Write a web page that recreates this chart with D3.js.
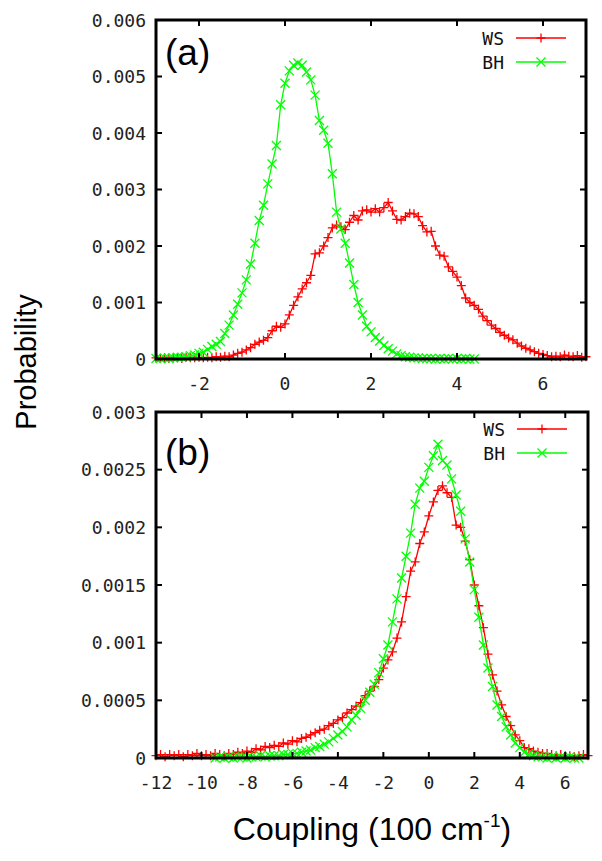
<!DOCTYPE html>
<html><head><meta charset="utf-8">
<script src="https://cdn.jsdelivr.net/npm/d3@7"></script>
<style>html,body{margin:0;padding:0;background:#fff;}svg{display:block;}</style>
</head><body>
<script>
// ---------- DATA ----------
// Panel (a)
const xA_ws = d3.range(-3, 7.001, 0.1).map(v => +v.toFixed(2));
const wsA = [0.00002,0.00001,0.00002,0.00001,0.00002,0.00002,0.00001,0.00003,0.00002,0.00002,
0.00003,0.00002,0.00003,0.00002,0.00004,0.00003,0.00005,0.00004,0.00007,0.00010,
0.00012,0.00016,0.00020,0.00026,0.00030,0.00033,0.00038,0.00050,0.00058,0.00056,
0.00062,0.00078,0.00095,0.00110,0.00124,0.00135,0.00148,0.00186,0.00188,0.00200,
0.00215,0.00232,0.00237,0.00234,0.00229,0.00242,0.00254,0.00246,0.00262,0.00264,
0.00260,0.00266,0.00260,0.00268,0.00277,0.00262,0.00247,0.00246,0.00252,0.00258,
0.00257,0.00252,0.00236,0.00225,0.00226,0.00200,0.00184,0.00182,0.00163,0.00155,
0.00145,0.00130,0.00108,0.00100,0.00095,0.00088,0.00076,0.00068,0.00060,0.00054,
0.00047,0.00042,0.00037,0.00034,0.00028,0.00023,0.00019,0.00016,0.00013,0.00010,
0.00008,0.00006,0.00004,0.00005,0.00004,0.00007,0.00005,0.00004,0.00006,0.00003,0.00004];
const xA_bh = d3.range(-3, 4.401, 0.1).map(v => +v.toFixed(2));
const bhA = [0.00001,0.00001,0.00002,0.00001,0.00002,0.00003,0.00003,0.00004,0.00006,0.00007,
0.00010,0.00012,0.00017,0.00022,0.00026,0.00031,0.00045,0.00060,0.00078,0.00097,
0.00117,0.00140,0.00168,0.00205,0.00245,0.00272,0.00310,0.00345,0.00378,0.00450,
0.00488,0.00510,0.00520,0.00524,0.00520,0.00508,0.00494,0.00467,0.00422,0.00405,
0.00382,0.00328,0.00260,0.00230,0.00205,0.00170,0.00132,0.00100,0.00078,0.00058,
0.00048,0.00038,0.00032,0.00024,0.00018,0.00014,0.00009,0.00006,0.00004,0.00003,
0.00002,0.00002,0.00001,0.00001,0.00001,0.00000,0.00001,0.00000,0.00001,0.00000,
0.00001,0.00000,0.00001,0.00000,0.00000];
// Panel (b)
const xB_ws = d3.range(-12, 7.001, 0.2).map(v => +v.toFixed(2));
const wsB = [0.00002,0.00003,0.00001,0.00003,0.00002,0.00003,0.00001,0.00003,0.00002,0.00004,
0.00002,0.00003,0.00002,0.00004,0.00003,0.00002,0.00004,0.00003,0.00005,0.00004,
0.00006,0.00005,0.00008,0.00007,0.00010,0.00009,0.00011,0.00010,0.00013,0.00012,
0.00015,0.00014,0.00017,0.00018,0.00020,0.00022,0.00024,0.00025,0.00028,0.00030,
0.00033,0.00035,0.00039,0.00042,0.00045,0.00048,0.00054,0.00058,0.00062,0.00068,
0.00078,0.00085,0.00092,0.00104,0.00118,0.00140,0.00162,0.00170,0.00186,0.00196,
0.00210,0.00222,0.00232,0.00236,0.00230,0.00226,0.00202,0.00200,0.00188,0.00172,
0.00150,0.00132,0.00113,0.00090,0.00072,0.00058,0.00046,0.00036,0.00028,0.00020,
0.00015,0.00009,0.00008,0.00006,0.00005,0.00004,0.00004,0.00003,0.00002,0.00003,
0.00002,0.00002,0.00001,0.00002,0.00003,0.00002];
const xB_bh = d3.range(-9.4, 6.601, 0.2).map(v => +v.toFixed(2));
const bhB = [0.00000,0.00001,0.00000,0.00001,0.00000,0.00001,0.00001,0.00000,0.00001,0.00001,
0.00002,0.00001,0.00002,0.00002,0.00002,0.00003,0.00003,0.00004,0.00004,0.00005,
0.00006,0.00007,0.00009,0.00010,0.00012,0.00014,0.00017,0.00020,0.00023,0.00027,
0.00033,0.00037,0.00043,0.00050,0.00057,0.00064,0.00074,0.00086,0.00098,0.00118,
0.00138,0.00156,0.00175,0.00195,0.00220,0.00234,0.00240,0.00252,0.00262,0.00272,
0.00258,0.00254,0.00242,0.00228,0.00214,0.00190,0.00170,0.00146,0.00122,0.00098,
0.00078,0.00062,0.00046,0.00036,0.00027,0.00020,0.00013,0.00009,0.00005,0.00003,
0.00002,0.00001,0.00001,0.00000,0.00001,0.00000,0.00001,0.00000,0.00001,0.00000,0.00000];

const xTicksA = [-2, 0, 2, 4, 6];
const xTickLabelsA = ["-2", "0", "2", "4", "6"];
const yTicksA = [0, 0.001, 0.002, 0.003, 0.004, 0.005, 0.006];
const yTickLabelsA = ["0", "0.001", "0.002", "0.003", "0.004", "0.005", "0.006"];
const xTicksB = [-12, -10, -8, -6, -4, -2, 0, 2, 4, 6];
const xTickLabelsB = ["-12", "-10", "-8", "-6", "-4", "-2", "0", "2", "4", "6"];
const yTicksB = [0, 0.0005, 0.001, 0.0015, 0.002, 0.0025, 0.003];
const yTickLabelsB = ["0", "0.0005", "0.001", "0.0015", "0.002", "0.0025", "0.003"];
const seriesNames = ["WS", "BH"];

// ---------- DRAW ----------
const W = 602, H = 861;
const svg = d3.select("body").append("svg").attr("width", W).attr("height", H);
const RED = "#ff0000", GREEN = "#00ff00";
const tickFont = "'DejaVu Sans Mono', 'Liberation Mono', monospace";

function marker(g, type, x, y, color) {
  const s = 4.5;
  if (type === "plus") {
    g.append("path").attr("d", `M${x - s},${y}H${x + s}M${x},${y - s}V${y + s}`)
      .attr("stroke", color).attr("stroke-width", 1.3).attr("fill", "none");
  } else {
    g.append("path").attr("d", `M${x - s},${y - s}L${x + s},${y + s}M${x - s},${y + s}L${x + s},${y - s}`)
      .attr("stroke", color).attr("stroke-width", 1.3).attr("fill", "none");
  }
}

function panel(cfg) {
  const x = d3.scaleLinear().domain(cfg.xDomain).range([cfg.left, cfg.right]);
  const y = d3.scaleLinear().domain(cfg.yDomain).range([cfg.bottom, cfg.top]);
  const g = svg.append("g");

  const clipId = "clip" + cfg.id;
  svg.append("clipPath").attr("id", clipId).append("rect")
    .attr("x", cfg.left - 6).attr("y", cfg.top).attr("width", cfg.right - cfg.left + 12).attr("height", cfg.bottom - cfg.top + 6);
  const data = g.append("g").attr("clip-path", `url(#${clipId})`);

  const line = d3.line().x(d => x(d[0])).y(d => y(d[1]));
  cfg.series.forEach(s => {
    const pts = s.xs.map((v, i) => [v, s.ys[i]]);
    data.append("path").datum(pts).attr("d", line)
      .attr("fill", "none").attr("stroke", s.color).attr("stroke-width", 1.3);
    const mg = data.append("g");
    pts.forEach(p => marker(mg, s.marker, x(p[0]), y(p[1]), s.color));
  });

  // frame
  g.append("rect").attr("x", cfg.left).attr("y", cfg.top)
    .attr("width", cfg.right - cfg.left).attr("height", cfg.bottom - cfg.top)
    .attr("fill", "none").attr("stroke", "#000").attr("stroke-width", 3);

  const tl = 6;
  cfg.xTicks.forEach((t, i) => {
    const px = x(t);
    g.append("line").attr("x1", px).attr("x2", px).attr("y1", cfg.bottom).attr("y2", cfg.bottom - tl)
      .attr("stroke", "#000").attr("stroke-width", 2);
    g.append("line").attr("x1", px).attr("x2", px).attr("y1", cfg.top).attr("y2", cfg.top + tl)
      .attr("stroke", "#000").attr("stroke-width", 2);
    g.append("text").attr("x", px).attr("y", cfg.bottom + 24).attr("text-anchor", "middle")
      .attr("dominant-baseline", "central").attr("font-family", tickFont).attr("font-size", 18)
      .attr("fill", "#222").text(cfg.xTickLabels[i]);
  });
  cfg.yTicks.forEach((t, i) => {
    const py = y(t);
    g.append("line").attr("x1", cfg.left).attr("x2", cfg.left + tl).attr("y1", py).attr("y2", py)
      .attr("stroke", "#000").attr("stroke-width", 2);
    g.append("line").attr("x1", cfg.right).attr("x2", cfg.right - tl).attr("y1", py).attr("y2", py)
      .attr("stroke", "#000").attr("stroke-width", 2);
    g.append("text").attr("x", cfg.left - 10).attr("y", py).attr("text-anchor", "end")
      .attr("dominant-baseline", "central").attr("font-family", tickFont).attr("font-size", 18)
      .attr("fill", "#222").text(cfg.yTickLabels[i]);
  });

  g.append("text").attr("x", cfg.left + 9).attr("y", cfg.labelY)
    .attr("font-family", "'Liberation Sans', Arial, sans-serif").attr("font-size", 37)
    .attr("fill", "#000").text(cfg.label);

  cfg.series.forEach((s, i) => {
    const ly = cfg.legendY + i * 24;
    g.append("text").attr("x", cfg.legendX).attr("y", ly).attr("text-anchor", "end")
      .attr("dominant-baseline", "central").attr("font-family", tickFont).attr("font-size", 18)
      .attr("fill", "#111").text(s.name);
    g.append("line").attr("x1", cfg.legendX + 12).attr("x2", cfg.legendX + 62).attr("y1", ly).attr("y2", ly)
      .attr("stroke", s.color).attr("stroke-width", 1.5);
    marker(g, s.marker, cfg.legendX + 37, ly, s.color);
  });
}

panel({
  id: "a", left: 156, right: 586, top: 20, bottom: 359,
  xDomain: [-3, 7], yDomain: [0, 0.006],
  xTicks: xTicksA, xTickLabels: xTickLabelsA, yTicks: yTicksA, yTickLabels: yTickLabelsA,
  label: "(a)", labelY: 65, legendX: 504, legendY: 38,
  series: [
    { name: seriesNames[0], xs: xA_ws, ys: wsA, color: RED, marker: "plus" },
    { name: seriesNames[1], xs: xA_bh, ys: bhA, color: GREEN, marker: "x" }
  ]
});

panel({
  id: "b", left: 156, right: 588, top: 412, bottom: 758,
  xDomain: [-12, 7], yDomain: [0, 0.003],
  xTicks: xTicksB, xTickLabels: xTickLabelsB, yTicks: yTicksB, yTickLabels: yTickLabelsB,
  label: "(b)", labelY: 465, legendX: 505, legendY: 429,
  series: [
    { name: seriesNames[0], xs: xB_ws, ys: wsB, color: RED, marker: "plus" },
    { name: seriesNames[1], xs: xB_bh, ys: bhB, color: GREEN, marker: "x" }
  ]
});

svg.append("text").attr("transform", "translate(36,362) rotate(-90)").attr("text-anchor", "middle")
  .attr("font-family", "'Liberation Sans', Arial, sans-serif").attr("font-size", 29).attr("fill", "#000")
  .text("Probability");

const xt = svg.append("text").attr("x", 372).attr("y", 840).attr("text-anchor", "middle")
  .attr("font-family", "'Liberation Sans', Arial, sans-serif").attr("font-size", 32).attr("fill", "#000");
xt.append("tspan").text("Coupling (100 cm");
xt.append("tspan").attr("font-size", 19).attr("dy", -13).text("-1");
xt.append("tspan").attr("dy", 13).text(")");
</script>
</body></html>
